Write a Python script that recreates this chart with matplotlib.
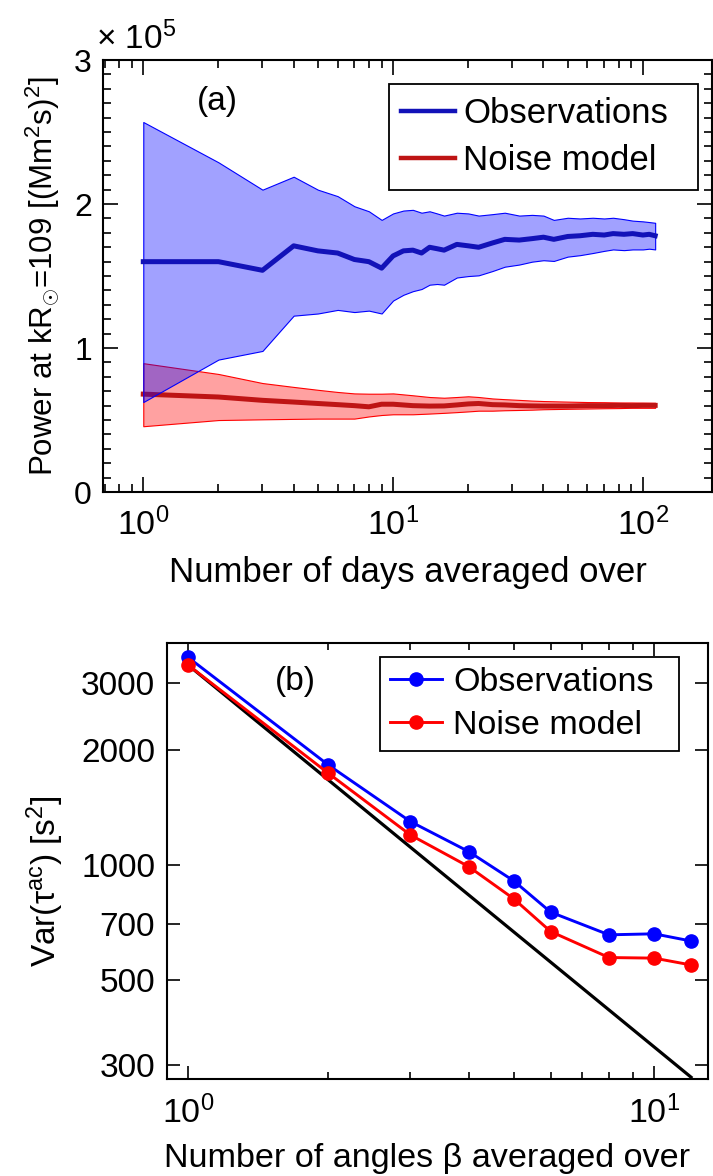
import matplotlib
matplotlib.use('Agg')
import matplotlib.pyplot as plt
from matplotlib.lines import Line2D
from matplotlib.ticker import (MultipleLocator, FixedLocator, NullLocator,
                               FuncFormatter, NullFormatter, LogLocator)

plt.rcParams['font.family'] = ['Liberation Sans', 'DejaVu Sans']
plt.rcParams['mathtext.fontset'] = 'custom'
plt.rcParams['mathtext.rm'] = 'Liberation Sans'
plt.rcParams['mathtext.it'] = 'Liberation Sans:italic'
plt.rcParams['mathtext.bf'] = 'Liberation Sans:bold'

# ---------------- Panel (a) data (power in units of 1e5) ----------------
obs_days = [1, 2, 3, 4, 5, 6, 7, 8, 9, 10, 11, 12, 13, 14, 15, 16, 18, 20, 22,
            25, 28, 32, 36, 40, 44, 50, 56, 63, 70, 76, 84, 91, 100, 106, 112]
obs_mean = [1.60, 1.60, 1.54, 1.71, 1.675, 1.66, 1.615, 1.60, 1.555, 1.64,
            1.675, 1.68, 1.66, 1.70, 1.69, 1.68, 1.72, 1.71, 1.70, 1.73,
            1.755, 1.75, 1.76, 1.77, 1.755, 1.775, 1.78, 1.79, 1.785, 1.795,
            1.79, 1.795, 1.785, 1.79, 1.78]
obs_hi = [2.57, 2.29, 2.10, 2.19, 2.10, 2.055, 1.985, 1.95, 1.89, 1.935,
          1.955, 1.96, 1.94, 1.95, 1.935, 1.92, 1.94, 1.935, 1.92, 1.93,
          1.94, 1.92, 1.925, 1.92, 1.89, 1.905, 1.90, 1.905, 1.90, 1.905,
          1.895, 1.885, 1.88, 1.875, 1.87]
obs_lo = [0.625, 0.92, 0.98, 1.225, 1.24, 1.265, 1.25, 1.26, 1.24, 1.33,
          1.37, 1.395, 1.41, 1.44, 1.445, 1.44, 1.49, 1.50, 1.505, 1.535,
          1.565, 1.58, 1.60, 1.61, 1.605, 1.635, 1.645, 1.66, 1.675, 1.685,
          1.68, 1.685, 1.685, 1.69, 1.685]

noise_days = [1, 2, 3, 4, 5, 6, 7, 8, 9, 10, 12, 14, 16, 18, 20, 22, 25, 28,
              32, 36, 40, 50, 60, 70, 80, 90, 100, 112]
noise_mean = [0.68, 0.66, 0.637, 0.625, 0.615, 0.607, 0.60, 0.592, 0.61, 0.61,
              0.60, 0.597, 0.598, 0.605, 0.612, 0.615, 0.607, 0.605, 0.60,
              0.598, 0.597, 0.597, 0.60, 0.60, 0.602, 0.60, 0.602, 0.602]
noise_hi = [0.895, 0.82, 0.757, 0.73, 0.71, 0.695, 0.685, 0.683, 0.683, 0.685,
            0.672, 0.66, 0.655, 0.66, 0.665, 0.66, 0.65, 0.645, 0.64, 0.635,
            0.632, 0.628, 0.625, 0.624, 0.622, 0.622, 0.621, 0.62]
noise_lo = [0.457, 0.50, 0.505, 0.508, 0.51, 0.51, 0.51, 0.525, 0.535, 0.54,
            0.54, 0.545, 0.55, 0.555, 0.56, 0.565, 0.565, 0.568, 0.57, 0.572,
            0.575, 0.578, 0.58, 0.582, 0.583, 0.585, 0.585, 0.585]

# ---------------- Panel (b) data ----------------
n_angles = [1, 2, 3, 4, 5, 6, 8, 10, 12]
var_obs = [3498, 1827, 1299, 1084, 908, 752, 656, 660, 632]
var_noise = [3338, 1738, 1198, 990, 815, 669, 572, 570, 547]
ref_x = [1, 12]
ref_y = [3340, 278]

OBS_LINE = '#1212B8'
NOISE_LINE = '#BE1414'

fig = plt.figure(figsize=(7.13, 11.76), dpi=100)

# ======================= Panel (a) =======================
axa = fig.add_axes([0.1445, 0.5816, 0.854, 0.3673])
axa.set_xscale('log')
axa.fill_between(noise_days, noise_lo, noise_hi, facecolor=(1, 0, 0, 0.37),
                 edgecolor=(1, 0, 0), linewidth=0.8, zorder=1)
axa.plot(noise_days, noise_mean, color=NOISE_LINE, lw=3.6, zorder=2,
         solid_joinstyle='round')
axa.fill_between(obs_days, obs_lo, obs_hi, facecolor=(0, 0, 1, 0.37),
                 edgecolor=(0, 0, 1), linewidth=0.8, zorder=3)
axa.plot(obs_days, obs_mean, color=OBS_LINE, lw=3.6, zorder=4,
         solid_joinstyle='round')

axa.set_xlim(0.69, 189)
axa.set_ylim(0, 3)
axa.yaxis.set_major_locator(FixedLocator([0, 1, 2, 3]))
axa.yaxis.set_minor_locator(MultipleLocator(0.1))
axa.yaxis.set_major_formatter(FuncFormatter(lambda v, p: f'{v:.0f}'))
axa.xaxis.set_major_locator(LogLocator(base=10, numticks=10))
axa.xaxis.set_minor_locator(LogLocator(base=10, subs=range(2, 10), numticks=20))
axa.xaxis.set_minor_formatter(NullFormatter())

axa.text(-0.012, 1.01, '× 10$^{5}$', transform=axa.transAxes,
         fontsize=24, ha='left', va='bottom')
axa.text(0.188, 0.905, '(a)', transform=axa.transAxes, fontsize=24,
         ha='center', va='center')

axa.set_xlabel('Number of days averaged over', fontsize=25)
axa.xaxis.set_label_coords(0.5, -0.208)
axa.xaxis.label.set_va('baseline')
axa.set_ylabel(r'Power at kR$_{\odot}$=109 [(Mm$^{2}$s)$^{2}$]', fontsize=22.5)
axa.yaxis.set_label_coords(-0.098, 0.5)
axa.yaxis.label.set_va('center')

leg_a = axa.legend(handles=[Line2D([], [], color=OBS_LINE, lw=3.2),
                            Line2D([], [], color=NOISE_LINE, lw=3.2)],
                   labels=['Observations', 'Noise model'],
                   loc='upper left', bbox_to_anchor=(0.4696, 0.704, 0.507, 0.240),
                   mode='expand',
                   borderaxespad=0, fontsize=25, frameon=True, fancybox=False,
                   framealpha=1, edgecolor='black', handlelength=1.53,
                   handletextpad=0.25, borderpad=0.36, labelspacing=0.42)
leg_a.get_frame().set_linewidth(1.3)

# ======================= Panel (b) =======================
axb = fig.add_axes([0.2338, 0.0825, 0.7592, 0.371])
axb.set_xscale('log')
axb.set_yscale('log')
axb.plot(ref_x, ref_y, color='black', lw=2.3, zorder=1)
axb.plot(n_angles, var_obs, color='blue', lw=2.1, marker='o', ms=9.5,
         zorder=2)
axb.plot(n_angles, var_noise, color='red', lw=2.1, marker='o', ms=9.5,
         zorder=3)

axb.set_xlim(0.9, 13.05)
axb.set_ylim(275, 3820)
axb.yaxis.set_major_locator(FixedLocator([300, 500, 700, 1000, 2000, 3000]))
axb.yaxis.set_major_formatter(FuncFormatter(lambda v, p: f'{v:.0f}'))
axb.yaxis.set_minor_locator(NullLocator())
axb.xaxis.set_major_locator(LogLocator(base=10, numticks=10))
axb.xaxis.set_minor_locator(LogLocator(base=10, subs=range(2, 10), numticks=20))
axb.xaxis.set_minor_formatter(NullFormatter())

axb.text(0.237, 0.91, '(b)', transform=axb.transAxes, fontsize=24,
         ha='center', va='center')

axb.set_xlabel('Number of angles β averaged over', fontsize=24.6)
axb.xaxis.set_label_coords(0.481, -0.2017)
axb.xaxis.label.set_va('baseline')
axb.set_ylabel(r'Var(τ$^{\mathrm{ac}}$) [s$^{2}$]', fontsize=24)
axb.yaxis.set_label_coords(-0.225, 0.454)
axb.yaxis.label.set_va('center')

leg_b = axb.legend(handles=[Line2D([], [], color='blue', lw=2.1, marker='o', ms=9.5),
                            Line2D([], [], color='red', lw=2.1, marker='o', ms=9.5)],
                   labels=['Observations', 'Noise model'],
                   loc='upper left', bbox_to_anchor=(0.394, 0.7, 0.552, 0.268),
                   mode='expand',
                   borderaxespad=0, fontsize=24.5, frameon=True, fancybox=False,
                   framealpha=1, edgecolor='black', handlelength=1.53,
                   handletextpad=0.32, borderpad=0.3, labelspacing=0.35)
leg_b.get_frame().set_linewidth(1.3)

# ---------------- common styling ----------------
for ax, ylsize, padx, pady, majlen in [(axa, 23, 11, 8, 11), (axb, 24, 12, 8.4, 9.5)]:
    for sp in ax.spines.values():
        sp.set_linewidth(1.5)
    ax.tick_params(which='both', direction='in', top=True, right=True,
                   width=1.2, colors='black')
    ax.tick_params(which='major', length=majlen)
    ax.tick_params(which='minor', length=majlen / 2)
    ax.tick_params(axis='x', which='major', labelsize=24.5, pad=padx)
    ax.tick_params(axis='y', which='major', labelsize=ylsize, pad=pady)

fig.savefig('out.png', dpi=100, facecolor='white')
